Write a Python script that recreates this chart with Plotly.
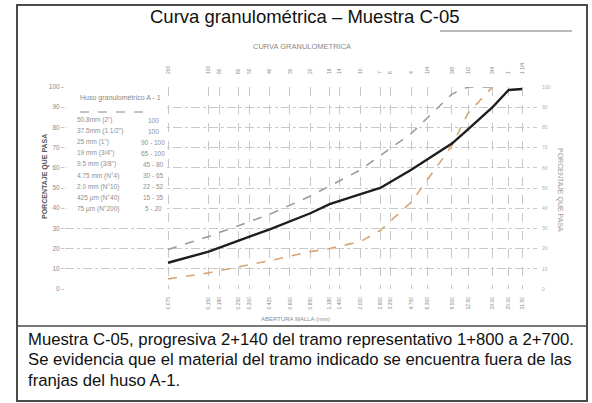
import plotly.graph_objects as go

# ---------------- data ----------------
sieve_mm = [0.075, 0.15, 0.18, 0.25, 0.3, 0.425, 0.6, 0.85, 1.18, 1.4, 2.0, 2.8, 3.35,
            4.75, 6.3, 9.5, 12.5, 19.0, 25.0, 31.5]
sieve_bottom_labels = ["0.075", "0.150", "0.180", "0.250", "0.300", "0.425", "0.600", "0.850",
                       "1.180", "1.400", "2.000", "2.800", "3.350", "4.750", "6.300", "9.500",
                       "12.50", "19.00", "25.00", "31.50"]
sieve_top_labels = ["200", "100", "80", "60", "50", "40", "30", "20", "16", "14", "10", "7", "6",
                    "4", "1/4", "3/8", "1/2", "3/4", "1", "1 1/4"]

sample_mm = [0.075, 0.15, 0.25, 0.425, 0.85, 1.18, 2.0, 2.8, 4.75, 9.5, 12.5, 19.0, 25.0, 31.5]
sample_pass = [13, 18.5, 24, 29.5, 37.5, 42, 47, 50, 59, 72, 79, 90, 98.5, 99]

upper_mm = [0.075, 0.15, 0.425, 0.85, 2.0, 4.75, 9.5, 12.5, 19.0]
upper_pass = [19.5, 26, 37, 46, 59, 77, 96.5, 100, 100]

lower_mm = [0.075, 0.15, 0.425, 0.85, 1.18, 2.0, 2.8, 4.75, 9.5, 12.5, 19.0]
lower_pass = [5, 8, 14, 18.5, 20, 23.5, 29, 43, 71, 87, 100]

huso_sizes = ["50.8mm (2\")", "37.5mm (1 1/2\")", "25 mm (1\")", "19 mm (3/4\")",
              "9.5 mm (3/8\")", "4.75 mm (N°4)", "2.0 mm (N°10)", "425 µm (N°40)",
              "75 µm (N°200)"]
huso_limits = ["100", "100", "90 - 100", "65 - 100", "45 - 80", "30 - 65", "22 - 52",
               "15 - 35", "5 - 20"]

y_ticks = list(range(0, 101, 10))

title_text = "Curva granulométrica – Muestra C-05"
chart_title = "CURVA GRANULOMETRICA"
caption_lines = [
    "Muestra C-05, progresiva 2+140 del tramo representativo 1+800 a 2+700.",
    "Se evidencia que el material del tramo indicado se encuentra fuera de las",
    "franjas del huso A-1.",
]

# ---------------- layout geometry (pixels) ----------------
W, H = 592, 403
L, R, T, B = 65, 537, 87, 289          # plot area edges in px
X0, X1 = -1.888, 1.608                 # log10 range of x axis


def px(x):
    return (x - L) / (R - L)


def py(y):
    return (B - y) / (B - T)


GRID = "#c8c8c8"
TXT = "#8a8a8a"
SANS = "Liberation Sans"

fig = go.Figure()

fig.add_trace(go.Scatter(x=upper_mm, y=upper_pass, mode="lines",
                         line=dict(color="#9a9a9a", width=1.6, dash="dash"),
                         hoverinfo="skip", showlegend=False))
fig.add_trace(go.Scatter(x=lower_mm, y=lower_pass, mode="lines",
                         line=dict(color="#d7a676", width=1.6, dash="dash"),
                         hoverinfo="skip", showlegend=False))
fig.add_trace(go.Scatter(x=sample_mm, y=sample_pass, mode="lines",
                         line=dict(color="#1e1e1e", width=2.4),
                         hoverinfo="skip", showlegend=False))
# invisible trace for top axis
fig.add_trace(go.Scatter(x=sieve_mm, y=[None] * len(sieve_mm), xaxis="x2",
                         mode="lines", showlegend=False, hoverinfo="skip"))
# invisible trace for right axis
fig.add_trace(go.Scatter(x=[None], y=[None], yaxis="y2", showlegend=False,
                         hoverinfo="skip"))

shapes = []
# white box behind the huso table (covers gridlines)
shapes.append(dict(type="rect", xref="paper", yref="paper", layer="above",
                   x0=px(L + 1), x1=px(165), y0=py(89), y1=py(221),
                   fillcolor="white", line=dict(width=0)))
# dashed line under table title
shapes.append(dict(type="line", xref="paper", yref="paper", layer="above",
                   x0=px(80), x1=px(150), y0=py(112), y1=py(112),
                   line=dict(color="#888888", width=1, dash="dash")))
# outer frame
shapes.append(dict(type="rect", xref="paper", yref="paper", layer="above",
                   x0=px(17), x1=px(587), y0=py(5), y1=py(401),
                   line=dict(color="#4a4a4a", width=2), fillcolor="rgba(0,0,0,0)"))
# separator above caption
shapes.append(dict(type="line", xref="paper", yref="paper", layer="above",
                   x0=px(17), x1=px(587), y0=py(326), y1=py(326),
                   line=dict(color="#4a4a4a", width=1.5)))
# line after title
shapes.append(dict(type="line", xref="paper", yref="paper", layer="above",
                   x0=px(440), x1=px(572), y0=py(31), y1=py(31),
                   line=dict(color="#777777", width=1)))

ann = []
ann.append(dict(text=title_text, x=px(305), y=py(17), xref="paper", yref="paper",
                showarrow=False, xanchor="center", yanchor="middle",
                font=dict(family=SANS, size=18.5, color="#111111")))
ann.append(dict(text=chart_title, x=px(302), y=py(46), xref="paper", yref="paper",
                showarrow=False, xanchor="center", yanchor="middle",
                font=dict(family=SANS, size=7.5, color=TXT)))
ann.append(dict(text="ABERTURA MALLA (mm)", x=px(295), y=py(319), xref="paper", yref="paper",
                showarrow=False, xanchor="center", yanchor="middle",
                font=dict(family=SANS, size=6, color=TXT)))
ann.append(dict(text="<b>PORCENTAJE QUE PASA</b>", x=px(45), y=py(177), xref="paper",
                yref="paper", showarrow=False, textangle=-90, xanchor="center",
                yanchor="middle", font=dict(family=SANS, size=7, color="#555555")))
ann.append(dict(text="PORCENTAJE QUE PASA", x=px(560), y=py(190), xref="paper", yref="paper",
                showarrow=False, textangle=90, xanchor="center", yanchor="middle",
                font=dict(family=SANS, size=7, color="#9a9a9a")))
# huso table
ann.append(dict(text="Huso granulométrico A - 1", x=px(78), y=py(98), xref="paper",
                yref="paper", showarrow=False, xanchor="left", yanchor="middle",
                font=dict(family=SANS, size=7, color="#888888")))
for i, (s, lim) in enumerate(zip(huso_sizes, huso_limits)):
    yy = 120 + 11.1 * i
    ann.append(dict(text=s, x=px(75), y=py(yy), xref="paper", yref="paper",
                    showarrow=False, xanchor="left", yanchor="middle",
                    font=dict(family=SANS, size=6.5, color="#8f8f8f")))
    ann.append(dict(text=lim, x=px(153), y=py(yy), xref="paper", yref="paper",
                    showarrow=False, xanchor="center", yanchor="middle",
                    font=dict(family=SANS, size=6.5, color="#8f8f8f")))
# caption
for i, line in enumerate(caption_lines):
    ann.append(dict(text=line, x=px(26), y=py(339 + 20.5 * i), xref="paper", yref="paper",
                    showarrow=False, xanchor="left", yanchor="middle",
                    font=dict(family=SANS, size=16.7, color="#111111")))

fig.update_layout(
    width=W, height=H,
    margin=dict(l=L, r=W - R, t=T, b=H - B, pad=0, autoexpand=False),
    paper_bgcolor="white", plot_bgcolor="white",
    showlegend=False,
    xaxis=dict(type="log", range=[X0, X1], tickvals=sieve_mm, ticktext=sieve_bottom_labels,
               tickangle=-90, tickfont=dict(family=SANS, size=5, color=TXT),
               showgrid=True, gridcolor=GRID, griddash="dash", gridwidth=1,
               zeroline=False, showline=False, ticks="", ticklabelstandoff=6,
               automargin=False),
    xaxis2=dict(type="log", range=[X0, X1], overlaying="x", side="top",
                tickvals=sieve_mm, ticktext=sieve_top_labels, tickangle=-90,
                tickfont=dict(family=SANS, size=5, color=TXT),
                showgrid=False, zeroline=False, showline=False, ticks="",
                ticklabelstandoff=12, automargin=False),
    yaxis=dict(range=[0, 100], tickvals=y_ticks, showgrid=True, gridcolor=GRID,
               griddash="dashdot", gridwidth=1, zeroline=False, showline=False,
               ticks="outside", ticklen=3, tickcolor=GRID, automargin=False,
               tickfont=dict(family=SANS, size=6.5, color=TXT)),
    yaxis2=dict(range=[0, 100], overlaying="y", side="right", tickvals=y_ticks,
                showgrid=False, zeroline=False, showline=False, ticks="",
                tickfont=dict(family=SANS, size=5, color="#b0b0b0"),
                ticklabelstandoff=4, automargin=False),
    shapes=shapes, annotations=ann,
)

fig.write_html("out.html", config={"displayModeBar": False},
               post_script="document.body.style.margin='0';document.body.style.padding='0';")
